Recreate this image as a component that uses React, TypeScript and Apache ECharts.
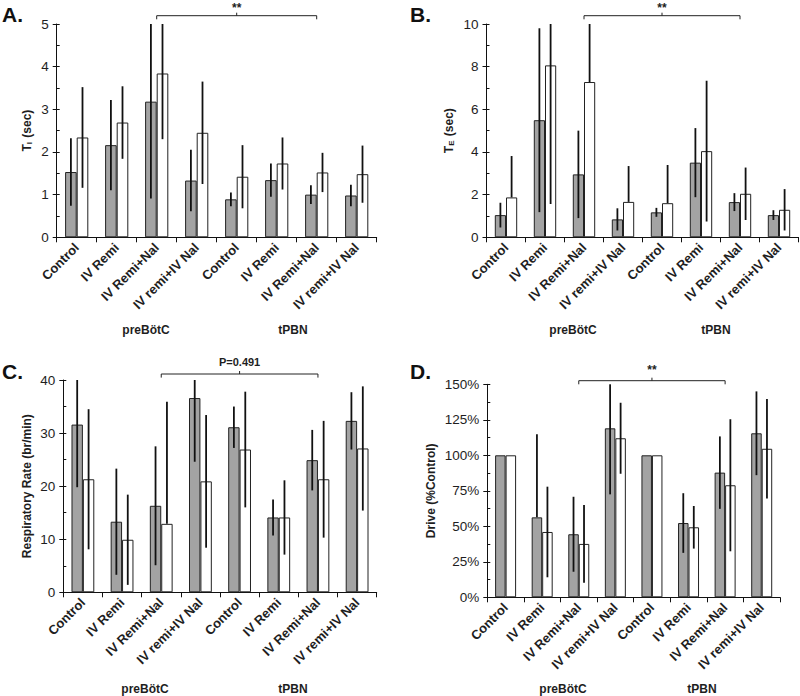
import React, { useEffect, useRef } from 'react';
import * as echarts from 'echarts';

// ---------- data ----------
const categories = ['Control', 'IV Remi', 'IV Remi+Nal', 'IV remi+IV Nal', 'Control', 'IV Remi', 'IV Remi+Nal', 'IV remi+IV Nal'];
const groupLabels = ['preBötC', 'tPBN'];
const panelLetters = ['A.', 'B.', 'C.', 'D.'];
const sigLabels = ['**', '**', 'P=0.491', '**'];
const bracketFrom = 2;
const bracketTo = 6;

// A: T_I (sec)
const tiGray = [1.53, 2.16, 3.18, 1.33, 0.89, 1.34, 1.0, 0.98];
const tiGraySd = [0.79, 1.06, 2.27, 0.72, 0.16, 0.39, 0.22, 0.25];
const tiWhite = [2.34, 2.69, 3.84, 2.45, 1.42, 1.73, 1.52, 1.48];
const tiWhiteSd = [1.18, 0.85, 1.54, 1.2, 0.74, 0.61, 0.46, 0.67];

// B: T_E (sec)
const teGray = [1.04, 5.49, 2.95, 0.84, 1.17, 3.5, 1.65, 1.04];
const teGraySd = [0.58, 4.31, 2.05, 0.52, 0.21, 1.62, 0.42, 0.23];
const teWhite = [1.87, 8.06, 7.28, 1.66, 1.6, 4.04, 2.04, 1.29];
const teWhiteSd = [1.94, 6.5, 7.5, 1.68, 1.79, 3.3, 1.23, 0.97];

// C: Respiratory Rate (br/min)
const rrGray = [31.6, 13.3, 16.3, 36.6, 31.1, 14.1, 24.9, 32.3];
const rrGraySd = [11.8, 10.0, 11.2, 12.0, 3.9, 3.4, 5.7, 5.4];
const rrWhite = [21.3, 9.9, 12.9, 20.9, 26.9, 14.1, 21.3, 27.1];
const rrWhiteSd = [13.2, 8.5, 23.0, 12.5, 10.9, 7.0, 11.0, 11.7];

// D: Drive (%Control)
const drGray = [100, 56.3, 44.4, 119.0, 100, 52.3, 87.8, 115.5];
const drGraySd = [0, 58.5, 26.4, 46.5, 0, 21.0, 25.5, 29.5];
const drWhite = [100, 46.0, 37.6, 112.0, 100, 49.3, 78.9, 104.6];
const drWhiteSd = [0, 31.9, 27.4, 25.0, 0, 15.0, 46.5, 35.0];

const yMax = [5, 10, 40, 150];
const yInterval = [1, 2, 10, 25];
const yMinor = [0.5, 1, 5, 12.5];
const yNames = ['{t|T}{s|I}{t| (sec)}', '{t|T}{s|E}{t| (sec)}', 'Respiratory Rate (br/min)', 'Drive (%Control)'];
const yFormats = ['{value}', '{value}', '{value}', '{value}%'];

// ---------- layout / style ----------
const FONT = '"Liberation Sans", Arial, sans-serif';
const TXT = '#1e1e1e';
const grids = [
  { left: 56.7, top: 24, width: 320, height: 213.3 },
  { left: 486.5, top: 24, width: 312, height: 213.3 },
  { left: 63.3, top: 380, width: 313.4, height: 212.3 },
  { left: 487.3, top: 384.3, width: 292.7, height: 213 },
];
const barWidths = [11.6, 11.2, 11.4, 10.5];
const nameGaps = [23, 31, 30, 50];
const letterPos = [[2, 14.5], [410, 14.5], [2, 371.5], [410, 371.5]];
const groupPos = [[146, 293, 330], [573, 716, 330], [145, 293, 688.5], [563, 702, 688.5]];
const bracketUp = [8.3, 8.3, 6, 3.6];
const sigY = [7.5, 7.5, 362.3, 370];

const panelsData = [
  [tiGray, tiGraySd, tiWhite, tiWhiteSd],
  [teGray, teGraySd, teWhite, teWhiteSd],
  [rrGray, rrGraySd, rrWhite, rrWhiteSd],
  [drGray, drGraySd, drWhite, drWhiteSd],
];

function errSeries(k: number, means: number[], sds: number[], side: number) {
  const bw = barWidths[k];
  const max = yMax[k];
  return {
    type: 'custom',
    xAxisIndex: k,
    yAxisIndex: k,
    z: 5,
    silent: true,
    clip: false,
    data: means.map((m, i) => [i, m, sds[i]]),
    renderItem: (params: any, api: any) => {
      const i = api.value(0);
      const m = api.value(1);
      const sd = api.value(2);
      if (!sd) return null;
      const hi = Math.min(m + sd, max);
      const lo = m - sd < 0 ? m : m - sd;
      const x = api.coord([i, m])[0] + (side * bw) / 2;
      const y1 = api.coord([i, hi])[1];
      const y2 = api.coord([i, lo])[1];
      return {
        type: 'line',
        shape: { x1: x, y1, x2: x, y2 },
        style: { stroke: '#111', lineWidth: 1.8 },
      };
    },
  };
}

export default function App() {
  const ref = useRef<HTMLDivElement>(null);
  useEffect(() => {
    document.body.style.margin = '0';
    const chart = echarts.init(ref.current!, null, { renderer: 'svg' });

    const xAxis: any[] = [];
    const yAxis: any[] = [];
    const series: any[] = [];
    const yMinorAxes: any[] = [];

    grids.forEach((g, k) => {
      xAxis.push({
        type: 'category',
        gridIndex: k,
        data: categories,
        axisLine: { lineStyle: { color: '#111', width: 1 } },
        axisTick: { show: true, length: 5, alignWithLabel: false, lineStyle: { color: '#111' } },
        axisLabel: {
          interval: 0,
          rotate: 45,
          margin: 8,
          fontFamily: FONT,
          fontWeight: 'bold',
          fontSize: 13,
          color: TXT,
        },
        splitLine: { show: false },
      });
      yAxis.push({
        type: 'value',
        gridIndex: k,
        position: 'left',
        min: 0,
        max: yMax[k],
        interval: yInterval[k],
        axisLine: { show: true, lineStyle: { color: '#111', width: 1 } },
        axisTick: { show: true, length: 4, lineStyle: { color: '#111' } },
        axisLabel: { fontFamily: FONT, fontSize: 13.5, color: TXT, margin: 8, formatter: yFormats[k] },
        splitLine: { show: false },
        name: yNames[k],
        nameLocation: 'middle',
        nameRotate: 90,
        nameGap: nameGaps[k],
        nameTextStyle: {
          fontFamily: FONT,
          fontWeight: 'bold',
          fontSize: 12,
          color: TXT,
          rich: {
            t: { fontFamily: FONT, fontWeight: 'bold', fontSize: 12, color: TXT },
            s: { fontFamily: FONT, fontWeight: 'bold', fontSize: 8, color: TXT, padding: [6, 1, 0, 0] },
          },
        },
      });
      yMinorAxes.push({
        type: 'value',
        gridIndex: k,
        position: 'left',
        offset: 0,
        min: 0,
        max: yMax[k],
        interval: yMinor[k],
        axisLine: { show: false },
        axisTick: { show: true, inside: true, length: 3, lineStyle: { color: '#111' } },
        axisLabel: { show: false },
        splitLine: { show: false },
      });
      const [gray, graySd, white, whiteSd] = panelsData[k];
      series.push({
        type: 'bar',
        xAxisIndex: k,
        yAxisIndex: k,
        data: gray,
        barWidth: barWidths[k],
        barGap: '0%',
        itemStyle: { color: '#a3a3a3', borderColor: '#222', borderWidth: 1 },
        silent: true,
      });
      series.push({
        type: 'bar',
        xAxisIndex: k,
        yAxisIndex: k,
        data: white,
        barWidth: barWidths[k],
        barGap: '0%',
        itemStyle: { color: '#ffffff', borderColor: '#222', borderWidth: 1 },
        silent: true,
      });
      series.push(errSeries(k, gray, graySd, -1));
      series.push(errSeries(k, white, whiteSd, 1));
    });

    const option: any = {
      animation: false,
      backgroundColor: '#ffffff',
      grid: grids.map((g) => ({ ...g, containLabel: false })),
      xAxis,
      yAxis: [...yAxis, ...yMinorAxes],
      series,
    };
    chart.setOption(option);

    const graphic: any[] = [];
    grids.forEach((g, k) => {
      const x1 = chart.convertToPixel({ gridIndex: k } as any, [bracketFrom, 0])[0];
      const x2 = chart.convertToPixel({ gridIndex: k } as any, [bracketTo, 0])[0];
      const by = g.top - bracketUp[k];
      const xm = (x1 + x2) / 2;
      graphic.push({
        type: 'polyline',
        shape: { points: [[x1, by + 3.6], [x1, by], [x2, by], [x2, by + 3.6]] },
        style: { stroke: '#222', lineWidth: 1, fill: null },
        silent: true,
      });
      graphic.push({
        type: 'line',
        shape: { x1: xm, y1: by, x2: xm, y2: by - 3 },
        style: { stroke: '#222', lineWidth: 1 },
        silent: true,
      });
      graphic.push({
        type: 'text',
        x: xm,
        y: sigY[k],
        style: {
          text: sigLabels[k],
          fontFamily: FONT,
          fontWeight: 'bold',
          fontSize: sigLabels[k] === '**' ? 12 : 11,
          fill: TXT,
          align: 'center',
          verticalAlign: 'middle',
        },
        silent: true,
      });
      graphic.push({
        type: 'text',
        x: letterPos[k][0],
        y: letterPos[k][1],
        style: {
          text: panelLetters[k],
          fontFamily: FONT,
          fontWeight: 'bold',
          fontSize: 21,
          fill: '#111',
          align: 'left',
          verticalAlign: 'middle',
        },
        silent: true,
      });
      groupLabels.forEach((lab, j) => {
        graphic.push({
          type: 'text',
          x: groupPos[k][j],
          y: groupPos[k][2],
          style: {
            text: lab,
            fontFamily: FONT,
            fontWeight: 'bold',
            fontSize: 12,
            fill: TXT,
            align: 'center',
            verticalAlign: 'middle',
          },
          silent: true,
        });
      });
    });
    chart.setOption({ graphic });

    return () => chart.dispose();
  }, []);
  return <div ref={ref} style={{ width: 800, height: 696 }} />;
}
